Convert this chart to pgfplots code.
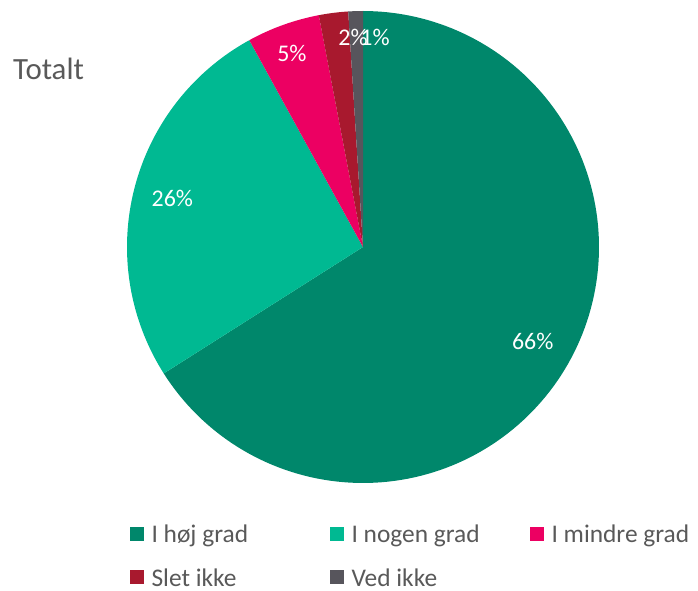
\documentclass[border=0pt]{standalone}
\usepackage{pgfplots}
\pgfplotsset{compat=1.18}
\usepackage{fontspec}
\setmainfont{Carlito}
\definecolor{cA}{HTML}{00876B}
\definecolor{cB}{HTML}{00B992}
\definecolor{cC}{HTML}{EC0062}
\definecolor{cD}{HTML}{A8192E}
\definecolor{cE}{HTML}{57555C}
\definecolor{txt}{HTML}{595959}
% data (percent)
\def\vA{66}\def\vB{26}\def\vC{5}\def\vD{2}\def\vE{1}
\pgfmathsetmacro{\aA}{90}
\pgfmathsetmacro{\aB}{\aA-3.6*\vA}
\pgfmathsetmacro{\aC}{\aB-3.6*\vB}
\pgfmathsetmacro{\aD}{\aC-3.6*\vC}
\pgfmathsetmacro{\aE}{\aD-3.6*\vD}
\pgfmathsetmacro{\aF}{\aE-3.6*\vE}
\begin{document}
\begin{tikzpicture}
\useasboundingbox (0,0) rectangle (698bp,591bp);
\node[anchor=base west, inner sep=0pt, text=txt, font=\fontsize{31}{34}\selectfont] at (13bp,511bp) {Totalt};
\begin{axis}[
  x=236bp, y=236bp, xmin=-1, xmax=1, ymin=-1, ymax=1,
  hide axis, anchor=origin, at={(363bp,344bp)}, clip=false,
  legend columns=3,
  legend cell align=left,
  legend image code/.code={\fill[#1] (0bp,-7bp) rectangle (14bp,7bp);},
  legend style={draw=none, fill=none, inner sep=0pt, at={(axis cs:-0.990,-1.176)}, anchor=north west,
    font=\fontsize{25.5}{28}\selectfont, text=txt, nodes={inner sep=0pt, text depth=0pt}, row sep=26bp,
    /tikz/every odd column/.append style={column sep=8bp}},
]
\addplot[fill=cA, draw=none, domain=\aB:\aA, samples=150, variable=\t] ({cos(\t)},{sin(\t)}) -- (0,0) -- cycle;
\addlegendentry{\makebox[178bp][l]{I høj grad}}
\addplot[fill=cB, draw=none, domain=\aC:\aB, samples=80, variable=\t] ({cos(\t)},{sin(\t)}) -- (0,0) -- cycle;
\addlegendentry{\makebox[178bp][l]{I nogen grad}}
\addplot[fill=cC, draw=none, domain=\aD:\aC, samples=20, variable=\t] ({cos(\t)},{sin(\t)}) -- (0,0) -- cycle;
\addlegendentry{I mindre grad}
\addplot[fill=cD, draw=none, domain=\aE:\aD, samples=10, variable=\t] ({cos(\t)},{sin(\t)}) -- (0,0) -- cycle;
\addlegendentry{\makebox[178bp][l]{Slet ikke}}
\addplot[fill=cE, draw=none, domain=\aF:\aE, samples=6, variable=\t] ({cos(\t)},{sin(\t)}) -- (0,0) -- cycle;
\addlegendentry{\makebox[178bp][l]{Ved ikke}}
\begin{scope}[every node/.style={anchor=base, inner sep=0pt, text=white, font=\fontsize{24}{26}\selectfont}]
\node at (axis cs:-0.808,0.171) {26\%};
\node at (axis cs:0.719,-0.433) {66\%};
\node at (axis cs:-0.301,0.788) {5\%};
\node at (axis cs:-0.042,0.852) {2\%};
\node at (axis cs:0.051,0.852) {1\%};
\end{scope}
\end{axis}
\end{tikzpicture}
\end{document}
